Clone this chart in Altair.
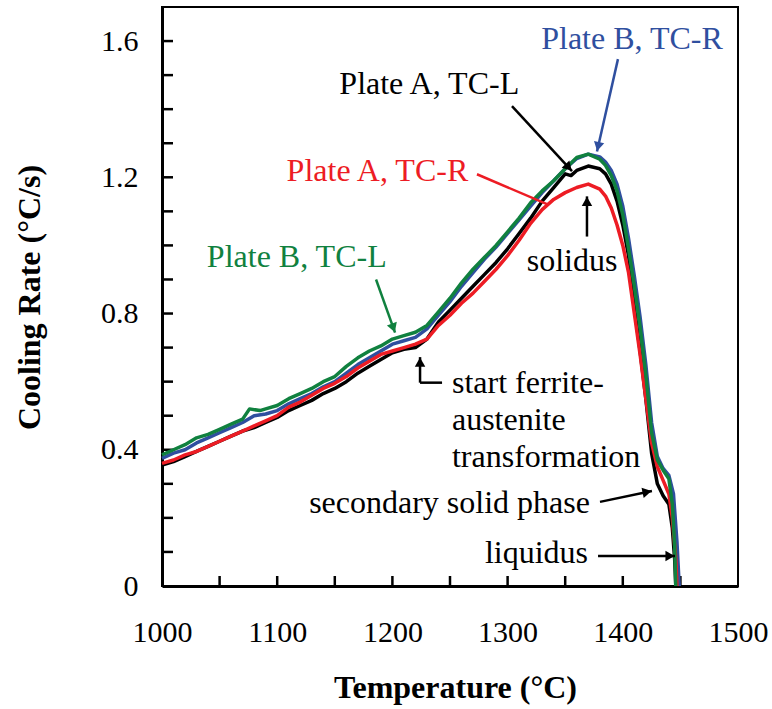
import math
import altair as alt
import pandas as pd

# ---------------- data ----------------
green_T = [1000, 1010, 1020, 1030, 1040, 1050, 1060, 1070, 1076, 1085, 1090, 1100, 1110, 1120, 1130, 1140,
           1150, 1160, 1170, 1180, 1190, 1200, 1210, 1220, 1230, 1240, 1250, 1260, 1270, 1280, 1290, 1300,
           1310, 1320, 1330, 1340, 1350, 1360, 1370, 1380, 1385, 1390, 1395, 1400, 1405, 1410, 1415, 1420,
           1425, 1430, 1435, 1440, 1443, 1445, 1446]
green_v = [0.385, 0.40, 0.415, 0.435, 0.445, 0.46, 0.475, 0.49, 0.52, 0.515, 0.52, 0.53, 0.55, 0.565, 0.58, 0.60,
           0.615, 0.645, 0.67, 0.69, 0.705, 0.725, 0.735, 0.745, 0.765, 0.805, 0.845, 0.89, 0.93, 0.965, 1.00, 1.04,
           1.08, 1.125, 1.16, 1.19, 1.225, 1.258, 1.268, 1.253, 1.235, 1.205, 1.16, 1.09, 0.99, 0.88, 0.76, 0.62,
           0.45, 0.37, 0.34, 0.315, 0.24, 0.12, 0.0]

blue_T = [1000, 1010, 1020, 1030, 1040, 1050, 1060, 1070, 1080, 1090, 1100, 1110, 1120, 1130, 1140, 1150,
          1160, 1170, 1180, 1190, 1200, 1210, 1220, 1230, 1240, 1250, 1260, 1270, 1280, 1290, 1300, 1310,
          1320, 1330, 1340, 1350, 1360, 1370, 1380, 1385, 1390, 1395, 1400, 1405, 1410, 1415, 1420, 1425,
          1430, 1435, 1440, 1444, 1447, 1449]
blue_v = [0.375, 0.39, 0.40, 0.42, 0.435, 0.45, 0.465, 0.48, 0.50, 0.505, 0.515, 0.535, 0.55, 0.565, 0.585, 0.60,
          0.625, 0.65, 0.67, 0.69, 0.71, 0.72, 0.73, 0.755, 0.795, 0.835, 0.88, 0.92, 0.96, 0.995, 1.035, 1.075,
          1.115, 1.155, 1.19, 1.225, 1.255, 1.268, 1.26, 1.245, 1.22, 1.18, 1.115, 1.02, 0.91, 0.79, 0.65, 0.48,
          0.38, 0.345, 0.325, 0.27, 0.13, 0.0]

black_T = [1000, 1010, 1020, 1030, 1040, 1050, 1060, 1070, 1080, 1090, 1100, 1110, 1120, 1130, 1140, 1150,
           1160, 1170, 1180, 1190, 1200, 1210, 1220, 1230, 1240, 1250, 1260, 1270, 1280, 1290, 1300, 1310,
           1320, 1330, 1340, 1350, 1355, 1360, 1370, 1380, 1385, 1390, 1395, 1400, 1405, 1410, 1415, 1420,
           1425, 1430, 1435, 1440, 1443, 1445, 1446]
black_v = [0.355, 0.365, 0.38, 0.395, 0.41, 0.425, 0.44, 0.455, 0.465, 0.48, 0.495, 0.515, 0.53, 0.545, 0.565, 0.58,
           0.60, 0.625, 0.645, 0.665, 0.685, 0.695, 0.70, 0.725, 0.775, 0.81, 0.845, 0.88, 0.915, 0.95, 0.99, 1.035,
           1.08, 1.13, 1.17, 1.21, 1.205, 1.22, 1.233, 1.225, 1.21, 1.18, 1.13, 1.06, 0.97, 0.82, 0.69, 0.55,
           0.39, 0.30, 0.265, 0.24, 0.17, 0.08, 0.0]

red_T = [1000, 1010, 1020, 1030, 1040, 1050, 1060, 1070, 1080, 1090, 1100, 1110, 1120, 1130, 1140, 1150,
         1160, 1170, 1180, 1190, 1200, 1210, 1220, 1230, 1240, 1250, 1260, 1270, 1280, 1290, 1300, 1310,
         1320, 1330, 1340, 1350, 1360, 1370, 1380, 1385, 1390, 1395, 1400, 1405, 1410, 1415, 1420, 1425,
         1430, 1435, 1440, 1443, 1446, 1447]
red_v = [0.36, 0.37, 0.385, 0.395, 0.41, 0.425, 0.44, 0.455, 0.47, 0.485, 0.50, 0.525, 0.54, 0.56, 0.58, 0.595,
         0.615, 0.64, 0.66, 0.68, 0.69, 0.70, 0.71, 0.725, 0.765, 0.795, 0.83, 0.86, 0.895, 0.93, 0.97, 1.015,
         1.065, 1.105, 1.135, 1.155, 1.17, 1.18, 1.165, 1.145, 1.11, 1.06, 1.00, 0.92, 0.80, 0.68, 0.55, 0.42,
         0.35, 0.31, 0.27, 0.20, 0.08, 0.0]

series_names = ["Plate A, TC-L", "Plate B, TC-R", "Plate A, TC-R", "Plate B, TC-L"]
series_colors = ["#000000", "#2f4f9f", "#ed1c24", "#10813f"]
series_data = [(black_T, black_v), (blue_T, blue_v), (red_T, red_v), (green_T, green_v)]

x_labels = [1000, 1100, 1200, 1300, 1400, 1500]
x_minor = [1050, 1100, 1150, 1200, 1250, 1300, 1350, 1400, 1450]
y_labels = [0, 0.4, 0.8, 1.2, 1.6]
y_minor = [0.1, 0.2, 0.3, 0.4, 0.5, 0.6, 0.7, 0.8, 0.9, 1.0, 1.1, 1.2, 1.3, 1.4, 1.5, 1.6]

# annotation labels: text, T, v, colour, align
ann_text = ["Plate B, TC-R", "Plate A, TC-L", "Plate A, TC-R", "Plate B, TC-L", "solidus",
            "start ferrite-", "austenite", "transformation", "secondary solid phase", "liquidus"]
ann_T = [1408, 1232, 1187, 1117, 1356, 1251.7, 1251.7, 1251.7, 1371.5, 1369.8]
ann_v = [1.606, 1.474, 1.218, 0.965, 0.953, 0.597, 0.488, 0.379, 0.244, 0.097]
ann_color = ["#2f4f9f", "#000000", "#ed1c24", "#10813f", "#000000",
             "#000000", "#000000", "#000000", "#000000", "#000000"]
ann_align = ["center", "center", "center", "center", "center",
             "left", "left", "left", "right", "right"]

# arrows: start T, start v, tip T, tip v, colour, has head
arr_T1 = [1395.8, 1303.8, 1273.4, 1185.8, 1368.9, 1243.1, 1224.0, 1380.2, 1378.5]
arr_v1 = [1.547, 1.409, 1.209, 0.900, 1.026, 0.597, 0.597, 0.247, 0.088]
arr_T2 = [1377.6, 1355.9, 1334.2, 1202.3, 1368.9, 1224.0, 1224.0, 1425.3, 1445.3]
arr_v2 = [1.276, 1.218, 1.121, 0.744, 1.144, 0.597, 0.672, 0.279, 0.088]
arr_color = ["#2f4f9f", "#000000", "#ed1c24", "#10813f", "#000000", "#000000", "#000000", "#000000", "#000000"]
arr_head = [True, True, False, True, True, False, True, True, True]

# ---------------- layout ----------------
W, H = 576, 579
X0, X1, Y0, Y1 = 1000, 1500, 0.0, 1.7
PX_PER_T = W / (X1 - X0)
PX_PER_V = H / (Y1 - Y0)
FONT = "Liberation Serif, Times New Roman, serif"

xs = alt.Scale(domain=[X0, X1], nice=False, zero=False)
ys = alt.Scale(domain=[Y0, Y1], nice=False)

x_axis = alt.Axis(values=x_labels, format="d", ticks=False, tickSize=0, grid=False, domainColor="black",
                  domainWidth=3, labelFont=FONT, labelFontSize=30, labelColor="black",
                  labelPadding=31, labelFlush=False, labelOverlap=False,
                  titleFont=FONT, titleFontSize=32, titleFontWeight="bold", titleColor="black",
                  titleX=293, titleY=111, titleAlign="center", titleBaseline="alphabetic")
y_axis = alt.Axis(values=y_labels, ticks=False, tickSize=0, grid=False, domainColor="black",
                  domainWidth=3, labelFont=FONT, labelFontSize=30, labelColor="black",
                  labelPadding=24, labelFlush=False, labelOverlap=False,
                  labelExpr="datum.value == 0 ? '0' : format(datum.value, '.1f')",
                  titleFont=FONT, titleFontSize=32, titleFontWeight="bold", titleColor="black",
                  titleX=-133, titleY=290, titleAngle=-90, titleBaseline="middle",
                  titleAlign="center")
X_TITLE = "Temperature (°C)"
Y_TITLE = "Cooling Rate (°C/s)"


def xe(f):
    return alt.X(f, type="quantitative", scale=xs, axis=x_axis, title=X_TITLE)


def ye(f):
    return alt.Y(f, type="quantitative", scale=ys, axis=y_axis, title=Y_TITLE)


layers = []

# inward ticks
xt = pd.DataFrame({"T": x_minor})
layers.append(alt.Chart(xt).mark_rule(color="black", strokeWidth=2.5).encode(
    x=xe("T"), y=alt.value(H), y2=alt.value(H - 10)))
yt = pd.DataFrame({"v": y_minor})
layers.append(alt.Chart(yt).mark_rule(color="black", strokeWidth=2.5).encode(
    y=ye("v"), x=alt.value(0), x2=alt.value(11)))

# curves
for name, col, (tt, vv) in zip(series_names, series_colors, series_data):
    df = pd.DataFrame({"T": tt, "v": vv, "i": list(range(len(tt)))})
    layers.append(alt.Chart(df).mark_line(color=col, strokeWidth=3.5, strokeJoin="round").encode(
        x=xe("T"), y=ye("v"), order="i:Q"))

# arrows
adf = pd.DataFrame({"T": arr_T1, "v": arr_v1, "T2": arr_T2, "v2": arr_v2, "c": arr_color})
layers.append(alt.Chart(adf).mark_rule(strokeWidth=2.5).encode(
    x=xe("T"), y=ye("v"), x2="T2:Q", y2="v2:Q", color=alt.Color("c:N", scale=None)))

heads = []
for t1, v1, t2, v2, c, h in zip(arr_T1, arr_v1, arr_T2, arr_v2, arr_color, arr_head):
    if not h:
        continue
    dxp = (t2 - t1) * PX_PER_T
    dyp = -(v2 - v1) * PX_PER_V
    ln = math.hypot(dxp, dyp)
    ux, uy = dxp / ln, dyp / ln
    ang = math.degrees(math.atan2(dxp, -dyp)) % 360
    heads.append({"T": t2 - ux * 5 / PX_PER_T, "v": v2 + uy * 5 / PX_PER_V, "c": c, "a": ang})
hdf = pd.DataFrame(heads)
layers.append(alt.Chart(hdf).mark_point(shape="triangle-up", filled=True, opacity=1, size=110,
                                        strokeWidth=0).encode(
    x=xe("T"), y=ye("v"),
    color=alt.Color("c:N", scale=None), angle=alt.Angle("a:Q", scale=None)))

# annotation text
tdf = pd.DataFrame({"t": ann_text, "T": ann_T, "v": ann_v, "c": ann_color, "al": ann_align})
for al in ["center", "left", "right"]:
    sub = tdf[tdf["al"] == al]
    layers.append(alt.Chart(sub).mark_text(font=FONT, fontSize=32, align=al, baseline="middle").encode(
        x=xe("T"), y=ye("v"), text="t:N", color=alt.Color("c:N", scale=None)))

chart = alt.layer(*layers).properties(
    width=W, height=H,
    autosize=alt.AutoSizeParams(type="none"),
    padding={"left": 162, "top": 7, "right": 34, "bottom": 123},
    background="white",
).configure_view(stroke="black", strokeWidth=2)

chart.save("out.html", embed_options={"renderer": "svg", "actions": False})
